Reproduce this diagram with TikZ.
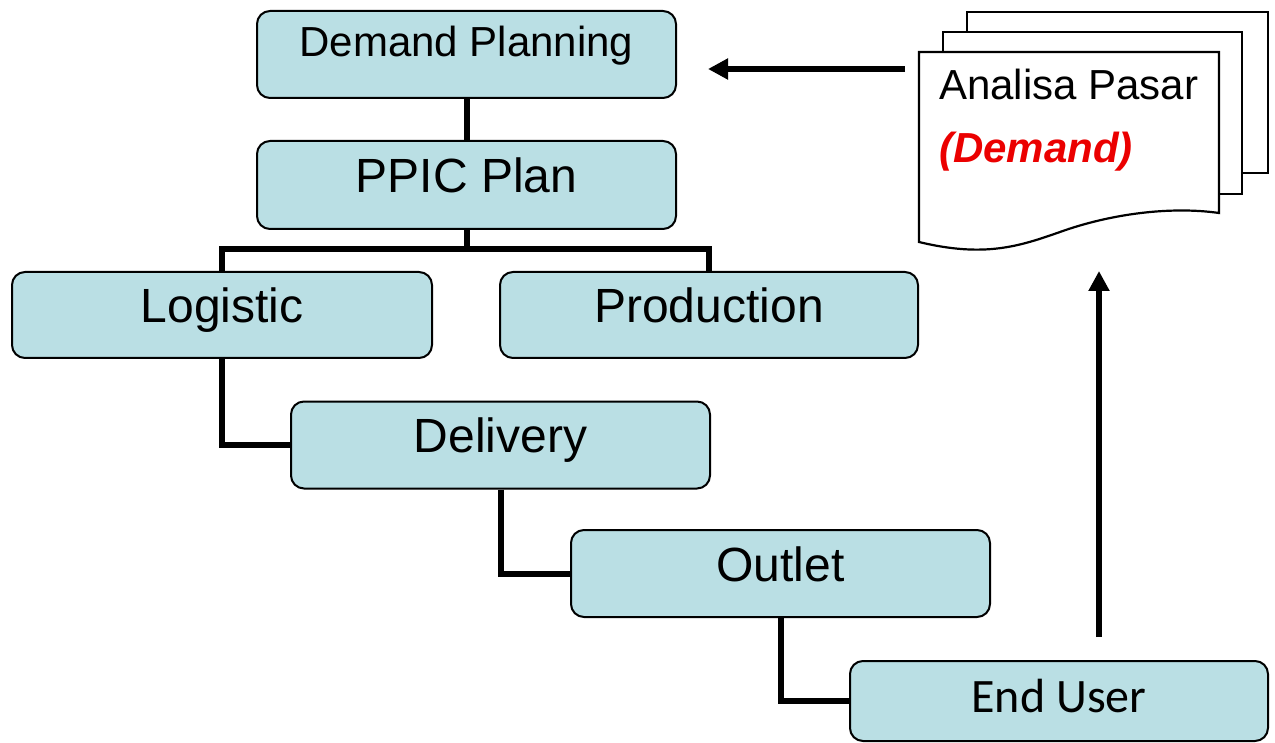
\documentclass[tikz,border=0pt]{standalone}
\usepackage{fontspec}
\setmainfont{Liberation Sans}
\newfontfamily\calibrifont{Carlito}
\usetikzlibrary{arrows.meta,calc}
\definecolor{boxfill}{RGB}{186,223,228}
\definecolor{docred}{RGB}{235,0,0}
\begin{document}
\begin{tikzpicture}[x=1pt,y=-1pt,
  bx/.style={draw=black, line width=2pt, fill=boxfill, rounded corners=13pt,
    minimum width=419pt, minimum height=87pt, inner sep=0pt,
    text height=35pt, text depth=20pt, font=\fontsize{48}{56}\selectfont},
  conn/.style={line width=6pt, draw=black},
  arr/.style={line width=6pt, draw=black, -{Triangle[length=20pt,width=20pt]}},
  docpage/.style={draw=black, line width=2.2pt, fill=white}]
\useasboundingbox (0,0) rectangle (1275,743);

% boxes
\node[bx, text height=30pt, text depth=25pt, font=\fontsize{42}{50}\selectfont] (dp) at (466.5,54.5) {Demand Planning};
\node[bx, minimum height=88pt] (ppic) at (466.5,185) {PPIC Plan};
\node[bx, minimum width=420pt, minimum height=86pt] (log) at (222,315) {Logistic};
\node[bx, minimum width=418pt, minimum height=86pt] (prod) at (709,315) {Production};
\node[bx] (del) at (500.5,445) {Delivery};
\node[bx] (out) at (780.5,573.5) {Outlet};
\node[bx, minimum width=418pt, minimum height=80pt, text height=38pt, text depth=16pt,
  font=\calibrifont\fontsize{48}{56}\selectfont] (eu) at (1059,701) {End User};

% connectors
\draw[conn] (dp.south) -- (ppic.north);
\coordinate (split) at ($(ppic.south)+(0,19)$);
\draw[conn] (ppic.south) -- (split) -| (log.north);
\draw[conn] (split) -| (prod.north);
\draw[conn] (log.south) |- (del.west);
\draw[conn] (del.south) |- (out.west);
\draw[conn] (out.south) |- (eu.west);

% documents
\draw[docpage] (967,12) rectangle (1268,173);
\draw[docpage] (943,32) rectangle (1242,194);
\draw[docpage] (919,52) -- (1219,52) -- (1219,213)
  .. controls (1170,206) and (1110,214) .. (1060,232)
  .. controls (1020,246) and (985,258) .. (919,242) -- cycle;
\node[anchor=base west, align=left, inner sep=0pt, font=\fontsize{42}{63}\selectfont] (doctext) at (939,163)
  {Analisa Pasar\\\textcolor{docred}{\bfseries\itshape (Demand)}};

% arrows
\coordinate (upstart) at (1099,637);
\coordinate (upend) at (1099,271);
\draw[arr] (upstart) -- (upend);
\coordinate (leftstart) at (905,69);
\coordinate (leftend) at (708,69);
\draw[arr] (leftstart) -- (leftend);
\end{tikzpicture}
\end{document}
